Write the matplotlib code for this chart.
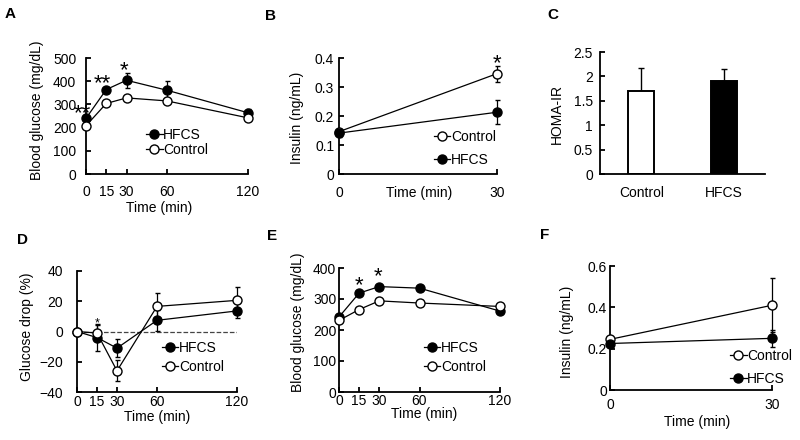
import matplotlib
matplotlib.use("Agg")
import matplotlib.pyplot as plt
from matplotlib.lines import Line2D

plt.rcParams["font.family"] = ["Liberation Sans", "DejaVu Sans"]
plt.rcParams["font.size"] = 10

# --- data ---
t_ogtt = [0, 15, 30, 60, 120]
a_hfcs = [240, 364, 404, 361, 264]
a_hfcs_err = [12, 12, 32, 38, 16]
a_ctrl = [208, 304, 328, 315, 242]
a_ctrl_err = [8, 8, 8, 8, 8]

t_ins = [0, 30]
b_ctrl = [0.146, 0.346]
b_ctrl_err = [0.01, 0.028]
b_hfcs = [0.141, 0.213]
b_hfcs_err = [0.012, 0.042]

c_groups = ["Control", "HFCS"]
c_vals = [1.70, 1.90]
c_err = [0.47, 0.25]

d_hfcs = [0, -4, -11, 7.4, 13.6]
d_hfcs_err = [0, 9, 6, 7, 5]
d_ctrl = [0, -1, -26, 16.6, 20.6]
d_ctrl_err = [0, 5, 7, 9, 9]

e_hfcs = [242, 319, 340, 335, 261]
e_hfcs_err = [6, 6, 6, 8, 6]
e_ctrl = [231, 266, 294, 287, 276]
e_ctrl_err = [6, 6, 6, 10, 6]

f_ctrl = [0.245, 0.41]
f_ctrl_err = [0.01, 0.13]
f_hfcs = [0.225, 0.25]
f_hfcs_err = [0.01, 0.04]

fig = plt.figure(figsize=(8, 4.4), dpi=100)
W, H = 800, 440


def make_ax(l, r, t, b):
    ax = fig.add_axes([l / W, 1 - b / H, (r - l) / W, (b - t) / H])
    for s in ["top", "right"]:
        ax.spines[s].set_visible(False)
    for s in ["left", "bottom"]:
        ax.spines[s].set_linewidth(1.3)
    ax.tick_params(direction="in", length=3.5, width=1.3, labelsize=10)
    return ax


def series(ax, x, y, err, filled, z):
    ax.errorbar(x, y, yerr=err, color="black", lw=0.9, elinewidth=0.9, capsize=1.8,
                marker="o", markersize=6.5, markeredgewidth=1,
                markerfacecolor="black" if filled else "white",
                markeredgecolor="black", clip_on=False, zorder=z)


def labels(ax, xl, yl, xlc, ylc, xpad, ypad):
    ax.tick_params(axis="x", pad=xpad)
    ax.tick_params(axis="y", pad=ypad)
    if xl:
        ax.set_xlabel(xl)
        ax.xaxis.label.set_va("center")
        ax.xaxis.set_label_coords(*xlc)
    ax.set_ylabel(yl)
    ax.yaxis.label.set_va("center")
    ax.yaxis.set_label_coords(*ylc)


def legend(ax, order, anchor, spacing):
    fills = {"HFCS": "black", "Control": "white"}
    hs = [Line2D([], [], color="black", lw=0.9, marker="o", markersize=6.5,
                 markerfacecolor=fills[o], markeredgecolor="black") for o in order]
    ax.legend(hs, order, loc="upper left",
              bbox_to_anchor=anchor, frameon=False, handlelength=1.2,
              handletextpad=0.05, borderpad=0, borderaxespad=0,
              labelspacing=spacing, fontsize=10)


def star(ax, x, y, s, size=16):
    ax.text(x, y, s, ha="center", va="center", fontsize=size)


# A
ax = make_ax(86, 248, 58, 174)
series(ax, t_ogtt, a_hfcs, a_hfcs_err, True, 3)
series(ax, t_ogtt, a_ctrl, a_ctrl_err, False, 4)
ax.set_xlim(0, 120)
ax.set_ylim(0, 500)
ax.set_xticks(t_ogtt)
ax.set_yticks([0, 100, 200, 300, 400, 500])
labels(ax, "Time (min)", "Blood glucose (mg/dL)", (0.45, -0.293), (-0.302, 0.55), 8, 7)
legend(ax, ["HFCS", "Control"], (0.37, 0.40), 0.1)
star(ax, -3, 258, "**")
star(ax, 12, 388, "**")
star(ax, 28, 444, "*")

# B
ax = make_ax(339, 497, 58, 174)
series(ax, t_ins, b_hfcs, b_hfcs_err, True, 4)
series(ax, t_ins, b_ctrl, b_ctrl_err, False, 3)
ax.set_xlim(0, 30)
ax.set_ylim(0, 0.4)
ax.set_xticks(t_ins)
ax.set_yticks([0, 0.1, 0.2, 0.3, 0.4])
ax.set_yticklabels(["0", "0.1", "0.2", "0.3", "0.4"])
labels(ax, "Time (min)", "Insulin (ng/mL)", (0.51, -0.164), (-0.266, 0.48), 8.5, 3.5)
legend(ax, ["Control", "HFCS"], (0.60, 0.38), 0.65)
star(ax, 30, 0.38, "*")

# C
ax = make_ax(600, 765, 52, 174)
ax.bar([0, 1], c_vals, width=0.31, color=["white", "black"], edgecolor="black",
       linewidth=1.4, zorder=2)
ax.errorbar([0, 1], c_vals, yerr=[[0, 0], c_err], fmt="none", ecolor="black",
            elinewidth=1, capsize=2.5, zorder=1)
ax.set_xlim(-0.5, 1.5)
ax.set_ylim(0, 2.5)
ax.set_xticks([0, 1])
ax.set_xticklabels(c_groups)
ax.tick_params(axis="x", length=0)
ax.set_yticks([0, 0.5, 1, 1.5, 2, 2.5])
ax.set_yticklabels(["0", "0.5", "1", "1.5", "2", "2.5"])
labels(ax, None, "HOMA-IR", None, (-0.26, 0.49), 8.5, 5)

# D
ax = make_ax(77, 237, 271, 392)
ax.plot([0, 120], [0, 0], ls="--", color="#444444", lw=0.9, zorder=1)
series(ax, t_ogtt, d_hfcs, d_hfcs_err, True, 3)
series(ax, t_ogtt, d_ctrl, d_ctrl_err, False, 4)
ax.set_xlim(0, 120)
ax.set_ylim(-40, 40)
ax.set_xticks(t_ogtt)
ax.set_yticks([-40, -20, 0, 20, 40])
labels(ax, "Time (min)", "Glucose drop (%)", (0.5, -0.207), (-0.3125, 0.54), 2, 10)
legend(ax, ["HFCS", "Control"], (0.53, 0.42), 0.35)
star(ax, 15, 5, "*", 9)

# E
ax = make_ax(339, 500, 268, 392)
series(ax, t_ogtt, e_hfcs, e_hfcs_err, True, 3)
series(ax, t_ogtt, e_ctrl, e_ctrl_err, False, 4)
ax.set_xlim(0, 120)
ax.set_ylim(0, 400)
ax.set_xticks(t_ogtt)
ax.set_yticks([0, 100, 200, 300, 400])
labels(ax, "Time (min)", "Blood glucose (mg/dL)", (0.53, -0.177), (-0.255, 0.56), 1.5, 2)
legend(ax, ["HFCS", "Control"], (0.525, 0.41), 0.35)
star(ax, 15, 344, "*")
star(ax, 29, 372, "*")

# F
ax = make_ax(610, 772, 266, 390)
series(ax, t_ins, f_hfcs, f_hfcs_err, True, 4)
series(ax, t_ins, f_ctrl, f_ctrl_err, False, 3)
ax.set_xlim(0, 30)
ax.set_ylim(0, 0.6)
ax.set_xticks(t_ins)
ax.set_yticks([0, 0.2, 0.4, 0.6])
ax.set_yticklabels(["0", "0.2", "0.4", "0.6"])
labels(ax, "Time (min)", "Insulin (ng/mL)", (0.54, -0.258), (-0.265, 0.47), 6, 2)
legend(ax, ["Control", "HFCS"], (0.74, 0.33), 0.65)

for txt, x, y in [("A", 10, 14), ("B", 270, 16), ("C", 553, 15),
                  ("D", 22, 240), ("E", 272, 236), ("F", 545, 235)]:
    fig.text(x / W, 1 - y / H, txt, ha="center", va="center", fontsize=11, fontweight="bold")

fig.savefig("out.png", dpi=100)
